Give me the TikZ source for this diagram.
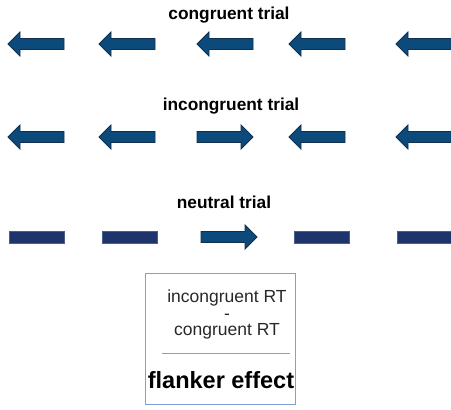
\documentclass[tikz,border=0pt]{standalone}
\usepackage{fontspec}
\setmainfont{Liberation Sans}
\definecolor{arrfill}{RGB}{11,74,122}
\definecolor{arredge}{RGB}{18,48,78}
\definecolor{barfill}{RGB}{30,52,106}
\definecolor{boxline}{RGB}{128,158,218}
\definecolor{boxtext}{RGB}{40,40,40}
\tikzset{
  arrshape/.style={fill=arrfill, draw=arredge, line width=0.8pt, line join=miter},
  barshape/.style={fill=barfill, draw=barfill!80!white, line width=0.5pt},
  title/.style={font=\bfseries\fontsize{17.3}{20}\selectfont, text=black, inner sep=0pt},
  boxtxt/.style={font=\fontsize{17.5}{16.5}\selectfont, text=boxtext, inner sep=0pt, align=center},
  pics/leftarr/.style={code={
    \draw[arrshape] (0,0) -- (12,-12) -- (12,-5.5) -- (56,-5.5) -- (56,5.5) -- (12,5.5) -- (12,12) -- cycle;
  }},
  pics/rightarr/.style={code={
    \draw[arrshape] (0,0) -- (-12,-12) -- (-12,-5.5) -- (-56,-5.5) -- (-56,5.5) -- (-12,5.5) -- (-12,12) -- cycle;
  }},
  pics/bar/.style={code={
    \draw[barshape] (0,-6) rectangle (55,6);
  }}
}
\begin{document}
\begin{tikzpicture}[x=1pt,y=-1pt]
\useasboundingbox (0,0) rectangle (451,410);
% congruent
\node[title] (t1) at (229,15) {congruent trial};
\pic at (8,44) {leftarr};
\pic at (99,44) {leftarr};
\pic at (197,44) {leftarr};
\pic at (289,44) {leftarr};
\pic at (396,44) {leftarr};
% incongruent
\node[title] (t2) at (231,106) {incongruent trial};
\pic at (8,137) {leftarr};
\pic at (99,137) {leftarr};
\pic at (253,137) {rightarr};
\pic at (289,137) {leftarr};
\pic at (396,137) {leftarr};
% neutral
\node[title] (t3) at (224,202) {neutral trial};
\pic at (9,237) {bar};
\pic at (102,237) {bar};
\pic at (257,237) {rightarr};
\pic at (294,237) {bar};
\pic at (397,237) {bar};
% box
\node[draw=boxline, line width=0.8pt, minimum width=150pt, minimum height=131pt, inner sep=0pt] (box) at (220,338.5) {};
\node[boxtxt, anchor=north] (diff) at (227,290) {incongruent RT\\-\\congruent RT};
\coordinate (l1) at (162,353);
\coordinate (l2) at (290,353);
\draw[boxline, line width=0.9pt] (l1) -- (l2);
\node[font=\bfseries\fontsize{23.5}{26}\selectfont, inner sep=0pt] (fe) at (221,380) {flanker effect};
\end{tikzpicture}
\end{document}
